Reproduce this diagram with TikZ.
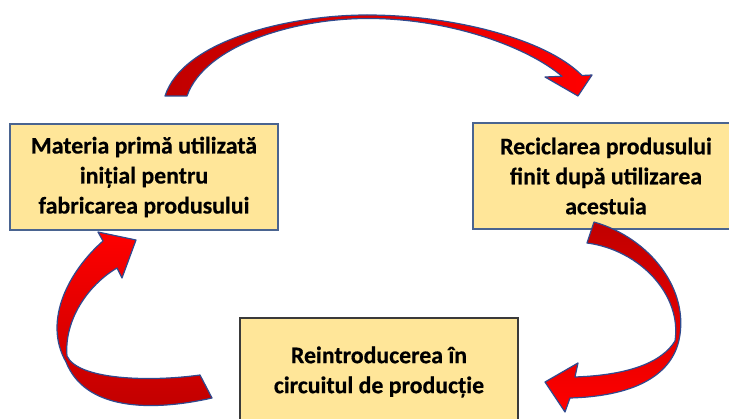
\documentclass[tikz,border=0pt]{standalone}
\usepackage{fontspec}
\setmainfont{Carlito}[BoldFeatures={FakeBold=0.5}]
\definecolor{boxfill}{HTML}{FFE699}
\definecolor{boxblue}{HTML}{4A6490}
\definecolor{boxgray}{HTML}{3A3A3A}
\definecolor{arrowdark}{HTML}{C00000}
\definecolor{arrowred}{HTML}{FF0000}
\definecolor{arrowline}{HTML}{2F4A8F}
\begin{document}
\begin{tikzpicture}[x=1pt,y=-1pt,
  stagebox/.style={rectangle, fill=boxfill, draw=boxblue, line width=1.6pt, inner sep=0pt,
    align=center, font=\fontsize{23.8}{30}\selectfont\bfseries},
  ribbon/.style={draw=arrowline, line width=1.2pt, line join=round}]
\useasboundingbox (0,0) rectangle (729,419);
\clip (0,0) rectangle (729,419);
\fill[white] (0,0) rectangle (729,419);
% boxes
\node[stagebox, minimum width=268pt, minimum height=106pt] (materia) at (144,177)
  {Materia primă utilizată\\inițial pentru\\fabricarea produsului};
\node[stagebox, minimum width=266pt, minimum height=106pt] (reciclare) at (606,176)
  {Reciclarea produsului\\finit după utilizarea\\acestuia};
\node[stagebox, draw=boxgray, minimum width=278pt, minimum height=108pt] (reintro) at (379,372)
  {Reintroducerea în\\circuitul de producție};
% top arrow: materia -> reciclare
\coordinate (topTip) at (578,96);
\draw[ribbon, left color=arrowdark, right color=arrowred]
  (165,96) .. controls (183,40) and (290,15) .. (367,15)
  .. controls (450,15) and (545,38) .. (582,75.5)
  -- (592,75) -- (topTip) -- (545,77) -- (562,76.3)
  .. controls (525,45) and (445,18) .. (367,18.5)
  .. controls (295,18.5) and (205,45) .. (187,96) -- cycle;
% right arrow: reciclare -> reintro
\coordinate (rightTip) at (545,382);
\draw[ribbon, top color=arrowdark, bottom color=arrowred]
  (594,222) .. controls (650,238) and (690,290) .. (679,340)
  .. controls (672,372) and (640,396) .. (570,398)
  -- (565,412) -- (rightTip) -- (578,363) -- (575,377)
  .. controls (630,375) and (662,362) .. (675,341)
  .. controls (682,295) and (640,250) .. (587,243) -- cycle;
% left arrow: reintro -> materia
\coordinate (leftTip) at (136,240);
\draw[ribbon, top color=arrowred, bottom color=arrowdark]
  (212,398) .. controls (150,412) and (85,410) .. (66,362)
  .. controls (42,320) and (70,270) .. (103,241)
  -- (98,232) -- (leftTip) -- (122,278) -- (117,268)
  .. controls (88,285) and (64,320) .. (67,356)
  .. controls (78,380) and (150,382) .. (200,375) -- cycle;
\end{tikzpicture}
\end{document}
